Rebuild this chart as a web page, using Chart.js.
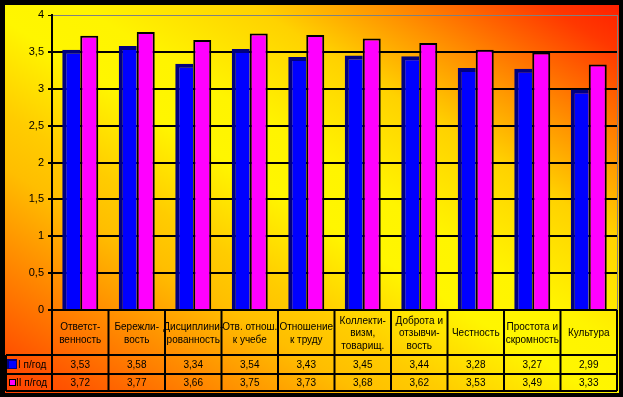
<!DOCTYPE html>
<html>
<head>
<meta charset="utf-8">
<script src="https://cdn.jsdelivr.net/npm/chart.js@4.4.1/dist/chart.umd.min.js"></script>
<style>
  body { margin: 0; background: #000; }
  canvas { display: block; }
</style>
</head>
<body>
<canvas id="myChart" width="623" height="397"></canvas>
<script>
"use strict";
// categories are split into lines like in the table header
const categories = [
    ['Ответст-', 'венность'],
    ['Бережли-', 'вость'],
    ['Дисциплини-', 'рованность'],
    ['Отв. отнош.', 'к учебе'],
    ['Отношение', 'к труду'],
    ['Коллекти-', 'визм,', 'товарищ.'],
    ['Доброта и', 'отзывчи-', 'вость'],
    ['Честность'],
    ['Простота и', 'скромность'],
    ['Культура']
];
const seriesNames = ['I п/год', 'II п/год'];
const firstHalf = [3.53, 3.58, 3.34, 3.54, 3.43, 3.45, 3.44, 3.28, 3.27, 2.99];
const secondHalf = [3.72, 3.77, 3.66, 3.75, 3.73, 3.68, 3.62, 3.53, 3.49, 3.33];
const yTicks = ['0', '0,5', '1', '1,5', '2', '2,5', '3', '3,5', '4'];

Chart.defaults.font.family = "'Liberation Sans', Arial, sans-serif";
Chart.defaults.color = '#000';

function fmt(v) {
    return v.toFixed(2).replace('.', ',');
}

// background: black frame + diagonal gradient
const backgroundPlugin = {
    id: 'bg',
    beforeDraw(chart) {
        const ctx = chart.ctx;
        ctx.save();
        ctx.fillStyle = '#000';
        ctx.fillRect(0, 0, chart.width, chart.height);
        let g = ctx.createLinearGradient(137, 476, 487, -78);
        g.addColorStop(0, '#ff4000');
        g.addColorStop(0.06, '#ff5500');
        g.addColorStop(0.29, '#ffbe00');
        g.addColorStop(0.36, '#ffcc00');
        g.addColorStop(0.48, '#fff600');
        g.addColorStop(0.56, '#fff400');
        g.addColorStop(0.7, '#ffd200');
        g.addColorStop(0.8, '#ff9400');
        g.addColorStop(0.94, '#ff3800');
        g.addColorStop(1, '#ff2000');
        ctx.fillStyle = g;
        ctx.fillRect(5, 5, 614, 388);
        ctx.restore();
    },
    beforeDatasetsDraw(chart) {
        const a = chart.chartArea;
        const ctx = chart.ctx;
        ctx.save();
        ctx.strokeStyle = '#808080';
        ctx.lineWidth = 1;
        ctx.beginPath();
        ctx.moveTo(a.right + 0.5, a.top);
        ctx.lineTo(a.right + 0.5, a.bottom);
        ctx.stroke();
        ctx.restore();
    }
};

// data table under the plot
const tablePlugin = {
    id: 'dataTable',
    afterDraw(chart) {
        const ctx = chart.ctx;
        const x = chart.scales.x;
        const a = chart.chartArea;
        const half = (x.getPixelForValue(1) - x.getPixelForValue(0)) / 2;
        const top = a.bottom;
        const row1 = 355, row2 = 374, bottom = 391, left = 6;
        ctx.save();
        ctx.strokeStyle = '#000';
        ctx.lineWidth = 2;
        ctx.beginPath();
        for (let i = 0; i <= categories.length; i++) {
            let px = i === categories.length ? a.right : x.getPixelForValue(i) - half;
            ctx.moveTo(px, top);
            ctx.lineTo(px, bottom);
        }
        ctx.moveTo(left, row1);
        ctx.lineTo(left, bottom);
        [row1, row2, bottom].forEach(function (y) {
            ctx.moveTo(left, y);
            ctx.lineTo(a.right, y);
        });
        ctx.stroke();

        ctx.fillStyle = '#000';
        ctx.font = "10px 'Liberation Sans', Arial, sans-serif";
        ctx.textAlign = 'center';
        ctx.textBaseline = 'middle';
        const lh = 12.5;
        for (let i = 0; i < categories.length; i++) {
            let cx = x.getPixelForValue(i);
            let lines = categories[i];
            let y0 = (top + row1) / 2 - (lines.length - 1) * lh / 2 + 1;
            lines.forEach(function (t, j) {
                ctx.fillText(t, cx, y0 + j * lh);
            });
            ctx.fillText(fmt(firstHalf[i]), cx, (row1 + row2) / 2 + 1);
            ctx.fillText(fmt(secondHalf[i]), cx, (row2 + bottom) / 2 + 1);
        }

        // legend keys
        ctx.fillStyle = '#000080';
        ctx.fillRect(7, 359, 10, 10);
        ctx.fillStyle = '#0000ff';
        ctx.fillRect(9, 361, 7, 7);
        ctx.fillStyle = '#000';
        ctx.fillRect(9, 379, 7, 7);
        ctx.fillStyle = '#ff00ff';
        ctx.fillRect(10, 380, 5, 5);
        ctx.fillStyle = '#000';
        ctx.textAlign = 'left';
        ctx.fillText(seriesNames[0], 18, (row1 + row2) / 2 + 1);
        ctx.fillText(seriesNames[1], 16, (row2 + bottom) / 2 + 1);
        ctx.restore();
    }
};

const data = {
    labels: categories,
    datasets: [{
        label: seriesNames[0],
        data: firstHalf,
        backgroundColor: '#0000ff',
        borderColor: '#000080',
        borderWidth: { left: 4, top: 4, right: 0, bottom: 0 },
        borderSkipped: false
    },
    {
        label: seriesNames[1],
        data: secondHalf,
        backgroundColor: '#ff00ff',
        borderColor: '#000',
        borderWidth: { left: 2, top: 2, right: 2, bottom: 0 },
        borderSkipped: false
    }]
};

const config = {
    type: 'bar',
    data: data,
    options: {
        responsive: false,
        animation: false,
        layout: { padding: { left: 0, top: 15, right: 6, bottom: 87 } },
        datasets: {
            bar: { categoryPercentage: 0.637, barPercentage: 1 }
        },
        plugins: {
            legend: { display: false },
            tooltip: { enabled: false }
        },
        scales: {
            x: {
                ticks: { display: false },
                grid: { display: false },
                border: { color: '#000', width: 2 },
                afterFit(scale) { scale.height = 0; }
            },
            y: {
                min: 0,
                max: 4,
                ticks: {
                    stepSize: 0.5,
                    padding: 4,
                    font: { size: 11 },
                    callback: function (v, i) { return yTicks[i]; }
                },
                grid: {
                    color: function (c) { return c.tick && c.tick.value === 4 ? '#808080' : '#000'; },
                    lineWidth: function (c) { return c.tick && c.tick.value === 4 ? 1 : 2; },
                    tickColor: '#000',
                    tickLength: 4
                },
                border: { color: '#000', width: 2 },
                afterFit(scale) { scale.width = 52; }
            }
        }
    },
    plugins: [backgroundPlugin, tablePlugin]
};

let canvasChart = document.getElementById('myChart');
const myChart = new Chart(canvasChart, config);
</script>
</body>
</html>
